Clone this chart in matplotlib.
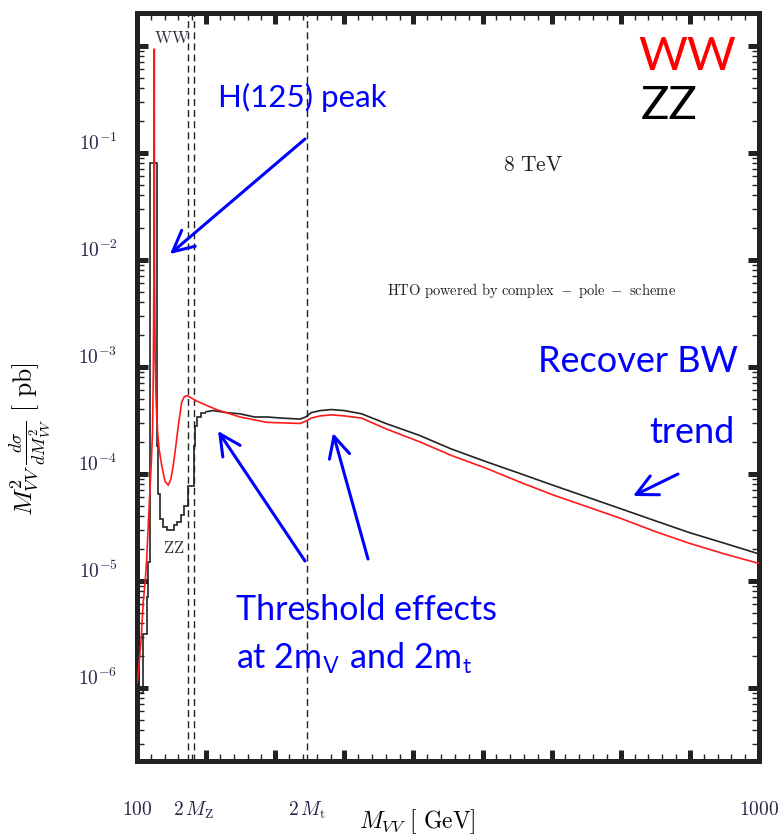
import numpy as np
import matplotlib
matplotlib.use("Agg")
import matplotlib.pyplot as plt
import matplotlib.transforms as mtransforms
from matplotlib.ticker import MultipleLocator, LogLocator, NullFormatter

plt.rcParams['mathtext.fontset'] = 'cm'

# ZZ (black histogram), low mass part as bins
zz_edges = [100, 108, 114, 116, 119.5, 129.5, 131, 134, 138, 143, 153, 158,
            163, 168, 174, 182.4, 184, 187, 192, 200]
zz_vals = [8.9e-7, 3.2e-6, 7.1e-6, 1.48e-5, 8.0e-2, 1.82e-4, 6.5e-5,
           3.8e-5, 3.16e-5, 2.95e-5, 3.3e-5, 3.55e-5, 4.07e-5, 5.0e-5, 7.6e-5,
           1.82e-4, 2.8e-4, 3.39e-4, 3.72e-4]
# ZZ tail
zz_mass = [200, 210, 230, 249, 270, 288, 310, 336, 344, 352, 365, 381, 400, 425,
           460, 508, 555, 606, 655, 703, 752, 801, 850, 899, 950, 1000]
zz_xs = [3.80e-4, 3.89e-4, 3.72e-4, 3.63e-4, 3.39e-4, 3.39e-4, 3.31e-4, 3.24e-4,
         3.39e-4, 3.72e-4, 3.89e-4, 3.98e-4, 3.89e-4, 3.63e-4, 2.95e-4, 2.29e-4,
         1.70e-4, 1.29e-4, 1.00e-4, 7.76e-5, 6.03e-5, 4.68e-5, 3.63e-5, 2.82e-5,
         2.24e-5, 1.78e-5]

# WW (red)
ww_mass = [100.5, 103, 106, 109, 112, 114, 116.5, 118.8, 121, 122.5, 123.6, 124.4,
           125.0, 125.5, 126.3, 127.3, 128.5, 130, 132, 135.7, 140.5, 145.3, 149,
           152.5, 156, 159.8, 164.7, 168.5, 172.8, 178, 186, 200, 215, 249, 288,
           336, 344, 352, 365, 381, 400, 425, 460, 508, 555, 606, 655, 703, 752,
           801, 850, 899, 950, 1000]
ww_xs = [1.12e-6, 1.66e-6, 2.82e-6, 6.3e-6, 1.0e-5, 1.58e-5, 3.55e-5, 7.2e-5,
         1.41e-4, 2.51e-4, 8.9e-4, 6.3e-3, 0.93, 6.3e-3, 1.26e-3, 5.6e-4, 3.47e-4,
         2.40e-4, 1.70e-4, 1.20e-4, 8.5e-5, 7.8e-5, 8.9e-5, 1.20e-4, 1.78e-4,
         2.82e-4, 4.68e-4, 5.25e-4, 5.37e-4, 5.13e-4, 4.79e-4, 4.37e-4, 3.98e-4,
         3.39e-4, 3.02e-4, 2.95e-4, 3.09e-4, 3.31e-4, 3.47e-4, 3.55e-4, 3.47e-4,
         3.31e-4, 2.63e-4, 2.00e-4, 1.48e-4, 1.12e-4, 8.3e-5, 6.3e-5, 4.9e-5,
         3.8e-5, 2.88e-5, 2.24e-5, 1.78e-5, 1.45e-5]

thresholds = [174, 182.4, 346]
xtick_pos = [100, 182.4, 346, 1000]
xtick_lab = ['$100$', r'$2\,M_{\rm Z}$', r'$2\,M_{\rm t}$', '$1000$']
ytick_pos = [1e0, 1e-1, 1e-2, 1e-3, 1e-4, 1e-5, 1e-6]
ytick_lab = ['', '$10^{-1}$', '$10^{-2}$', '$10^{-3}$', '$10^{-4}$', '$10^{-5}$', '$10^{-6}$']

W, H = 778, 837
fig = plt.figure(figsize=(W / 100, H / 100), dpi=100)
ax = fig.add_axes([137 / W, 1 - 762 / H, (759 - 137) / W, (762 - 14) / H])

for x in thresholds:
    ax.axvline(x, color='#222222', lw=1.0, ls=(0, (5, 3)), zorder=1)

ax.stairs(zz_vals, zz_edges, baseline=None, color='#222222', lw=1.2, zorder=2)
ax.plot(zz_mass, zz_xs, color='#222222', lw=1.2, zorder=2)
ax.plot(ww_mass, ww_xs, color='#ff1a1a', lw=1.2, zorder=3)

ax.set_yscale('log')
ax.set_xlim(100, 1000)
ax.set_ylim(10 ** -6.685, 10 ** 0.306)

for s in ax.spines.values():
    s.set_linewidth(3.6)
    s.set_color('#222222')

ax.xaxis.set_major_locator(MultipleLocator(100))
ax.xaxis.set_minor_locator(MultipleLocator(20))
ax.xaxis.set_major_formatter(NullFormatter())
ax.set_yticks(ytick_pos)
ax.set_yticklabels(ytick_lab)
ax.yaxis.set_minor_locator(LogLocator(base=10, subs=np.arange(2, 10)))
ax.yaxis.set_minor_formatter(NullFormatter())
ax.tick_params(which='major', direction='in', length=8, width=3.6, color='#222222',
               top=True, right=True, labelsize=14, labelcolor='#25254a', pad=14)
ax.tick_params(which='minor', direction='in', length=5, width=1.0, color='#222222',
               top=True, right=True)
off = mtransforms.ScaledTranslation(0, 0.12, fig.dpi_scale_trans)
for lab in ax.get_yticklabels():
    lab.set_transform(lab.get_transform() + off)

tr = mtransforms.blended_transform_factory(ax.transData, ax.transAxes)
for x, lab in zip(xtick_pos, xtick_lab):
    ax.text(x, -0.064, lab, transform=tr, ha='center', va='center', fontsize=14,
            color='#25254a')


def px(x, y):
    return x / W, 1 - y / H


fig.text(*px(417, 822), r'$M_{VV}\ [\ \mathrm{GeV}]$', ha='center', va='center', fontsize=17)
fig.text(*px(30, 439), r'$M^2_{VV}\,\frac{d\sigma}{dM^2_{VV}}\ [\ \mathrm{pb}]$',
         ha='center', va='center', fontsize=18.5, rotation=90)

fig.text(*px(172, 38), r'$\mathrm{WW}$', ha='center', va='center', fontsize=12, color='#333344')
fig.text(*px(174, 548), r'$\mathrm{ZZ}$', ha='center', va='center', fontsize=12, color='#333344')
fig.text(*px(533, 165), r'$\mathrm{8\ TeV}$', ha='center', va='center', fontsize=15.5, color='#222222')
fig.text(*px(532, 290), r'$\mathrm{HTO\ powered\ by\ complex\ -\ pole\ -\ scheme}$',
         ha='center', va='center', fontsize=10.5, color='#222222')

blue = '#0000ff'
bf = 'Lato'
fig.text(*px(302, 97), 'H(125) peak', ha='center', va='center', fontsize=22.5,
         color=blue, family=bf)
fig.text(*px(687, 57), 'WW', ha='center', va='center', fontsize=34, color='#ff0000', family=bf)
fig.text(*px(669, 106), 'ZZ', ha='center', va='center', fontsize=34, color='black',
         family=bf, fontstyle='normal')
fig.text(*px(738, 362), 'Recover BW', ha='right', va='center', fontsize=26, color=blue, family=bf)
fig.text(*px(735, 433), 'trend', ha='right', va='center', fontsize=26, color=blue, family=bf)
fig.text(*px(236, 610), 'Threshold effects', ha='left', va='center', fontsize=24.5,
         color=blue, family=bf)
fig.text(*px(236, 658), 'at 2m$_\\mathsf{V}$ and 2m$_\\mathsf{t}$', ha='left', va='center',
         fontsize=24.5, color=blue, family=bf)

arrows = [((305, 140), (170, 255)), ((305, 562), (218, 432)),
          ((368, 560), (333, 434)), ((678, 475), (633, 497))]
for (x0, y0), (x1, y1) in arrows:
    fig.add_artist(matplotlib.patches.FancyArrowPatch(
        (x0, H - y0), (x1, H - y1), transform=None,
        arrowstyle='->,head_length=15,head_width=7.5', color=blue, lw=2.2,
        mutation_scale=1, shrinkA=0, shrinkB=0))

fig.savefig('out.png', dpi=100)
